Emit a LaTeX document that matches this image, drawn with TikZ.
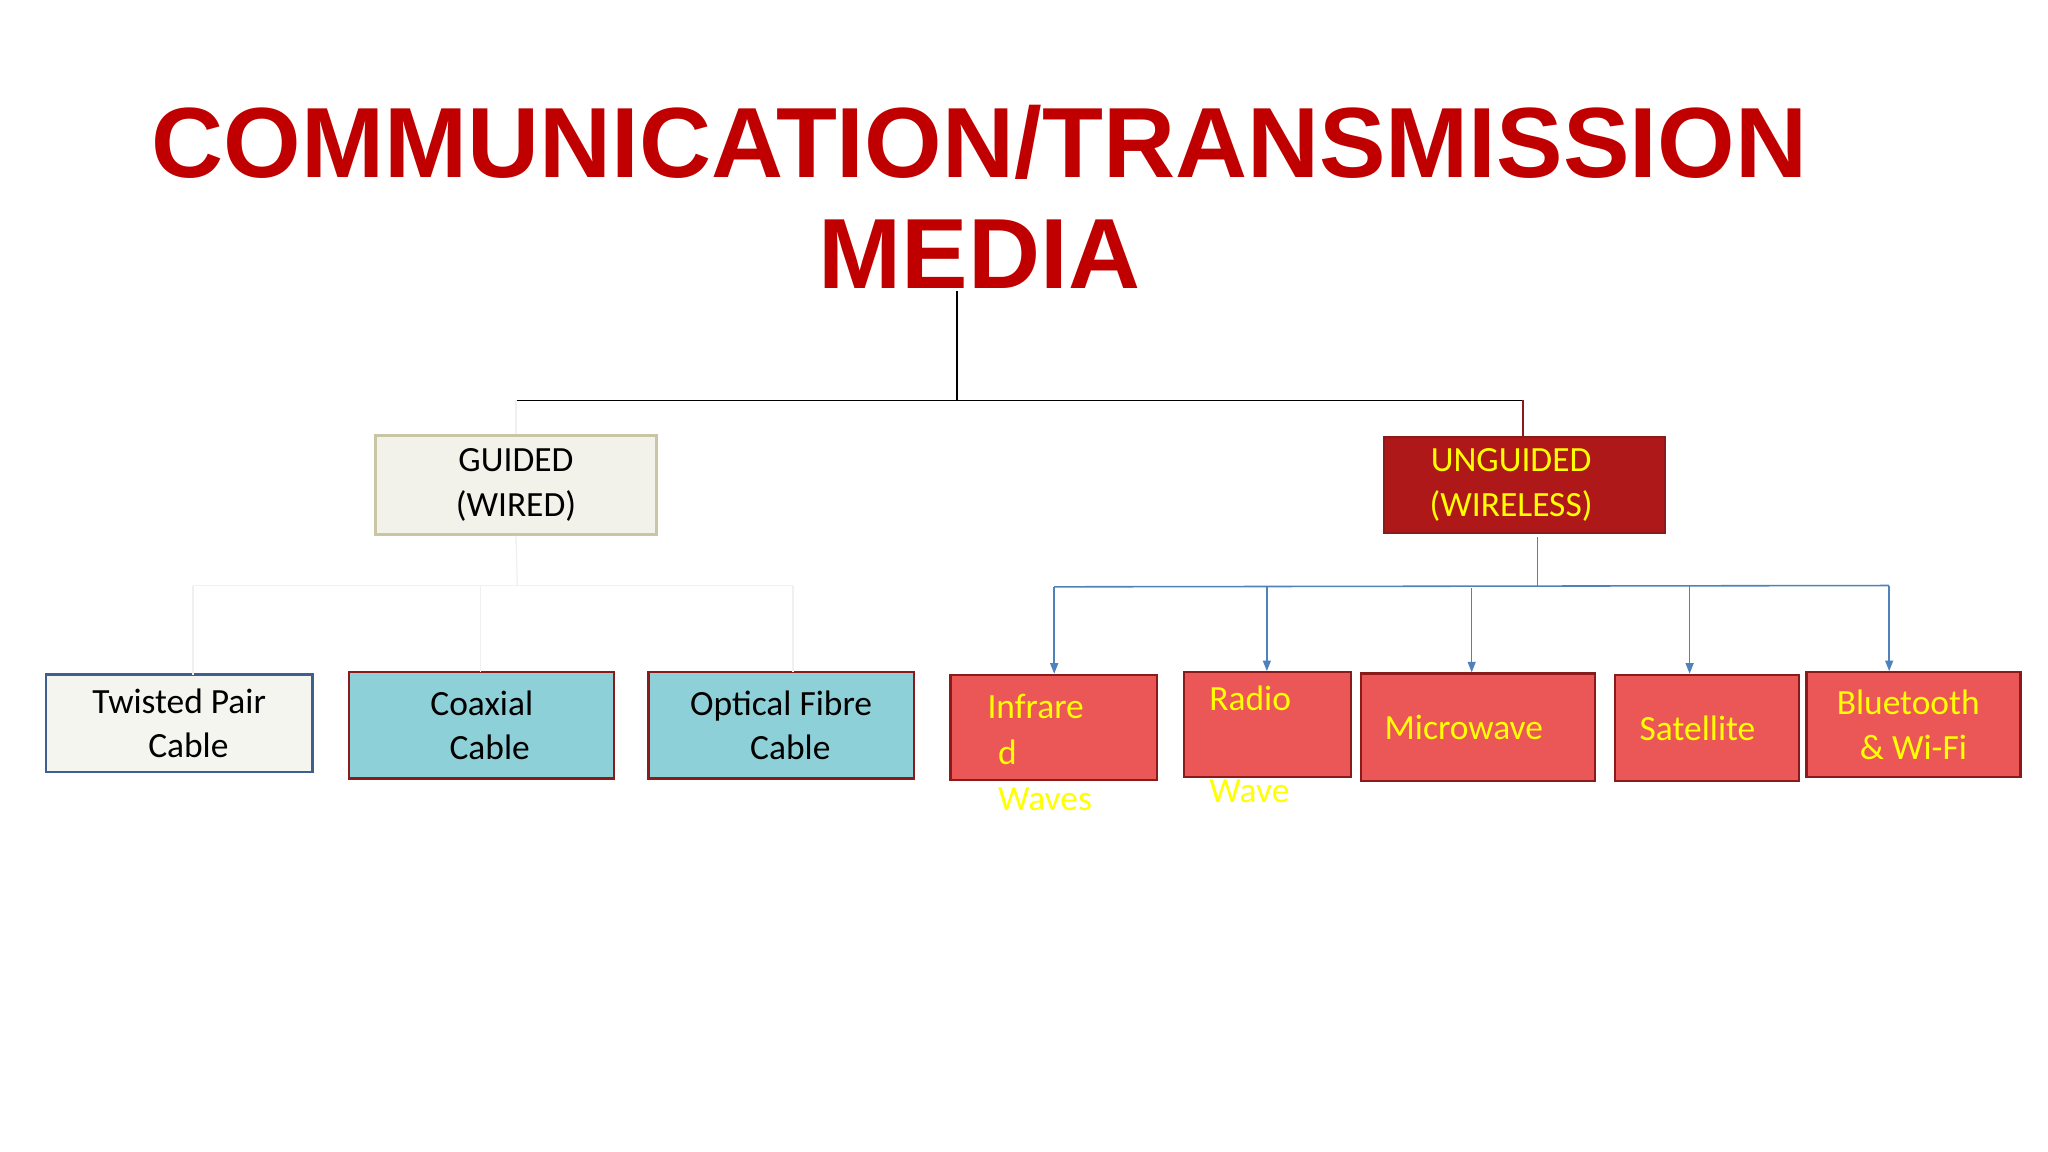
\documentclass[tikz,border=0pt]{standalone}
\usepackage{fontspec}
\setmainfont{Carlito}
\newfontfamily\titlefont{Liberation Sans}
\usetikzlibrary{arrows.meta}
\definecolor{ttl}{HTML}{C00000}
\definecolor{lnk}{HTML}{4F81BD}
\definecolor{brd}{HTML}{8B1A1A}
\definecolor{redbox}{HTML}{EB5757}
\definecolor{teal}{HTML}{8ED0D7}
\definecolor{yel}{HTML}{FFFF00}
\begin{document}
\begin{tikzpicture}[x=1pt,y=-1pt,
 box/.style={draw=brd,line width=1.6pt,inner sep=0pt,font=\fontsize{27}{34}\selectfont,align=center},
 red/.style={box,fill=redbox,text=yel},
 cyan/.style={box,fill=teal,text=black},
 lab/.style={anchor=base west,inner sep=0pt,text=yel,font=\fontsize{27}{34}\selectfont},
 arr/.style={draw=lnk,line width=1.2pt,-{Triangle[width=6pt,length=8pt]}},
 faint/.style={draw=black!6,line width=1pt}]
\useasboundingbox (0,0) rectangle (1560,877.5);
\node[inner sep=0pt,text=ttl,font=\titlefont\bfseries\fontsize{76}{86}\selectfont,align=center] (title) at (746,150) {COMMUNICATION/TRANSMISSION\\[-2pt]MEDIA};
\node[box,draw={rgb,255:red,201;green,197;blue,165},line width=2.4pt,fill={rgb,255:red,243;green,242;blue,234},minimum width=214pt,minimum height=75pt] (guided) at (393,369.5) {GUIDED\\(WIRED)};
\node[box,fill={rgb,255:red,174;green,24;blue,24},text=yel,minimum width=214pt,minimum height=73pt] (unguided) at (1161,369.5) {\hspace*{-20pt}UNGUIDED\\\hspace*{-20pt}(WIRELESS)};
\node[box,draw={rgb,255:red,63;green,95;blue,143},line width=2.2pt,fill={rgb,255:red,245;green,245;blue,240},minimum width=203pt,minimum height=74pt] (tp) at (136.5,551) {Twisted Pair\\\hspace*{14pt}Cable};
\node[cyan,minimum width=202pt,minimum height=81pt] (coax) at (367,552.5) {Coaxial\\\hspace*{12pt}Cable};
\node[cyan,minimum width=202pt,minimum height=81pt] (opt) at (595,552.5) {Optical Fibre\\\hspace*{14pt}Cable};
\node[red,minimum width=157pt,minimum height=80pt] (ir) at (802.5,554) {};
\node[red,minimum width=127pt,minimum height=80pt] (radio) at (965.5,552) {};
\node[red,minimum width=178pt,minimum height=82pt] (mw) at (1126,554) {\hspace*{-22pt}Microwave};
\node[red,minimum width=140pt,minimum height=81pt] (sat) at (1300,554.5) {\hspace*{-14pt}Satellite};
\node[red,minimum width=163pt,minimum height=80pt] (bt) at (1457.5,552) {\hspace*{-8pt}Bluetooth\\\&~Wi-Fi};
\node[lab] (ir1) at (752,547) {Infrare};
\node[lab] (ir2) at (760,582) {d};
\node[lab] (ir3) at (760,617) {Waves};
\node[lab] (r1) at (921,541) {Radio};
\node[lab] (r2) at (921,611) {Wave};
% main tree
\coordinate (tj) at (729,305);
\coordinate (tl) at (393,305);
\coordinate (tr) at (1160,305);
\draw[line width=1.2pt] (729,222) -- (tj);
\draw[line width=1.2pt] (tl) -- (tr);
\draw[brd,line width=1.4pt] (tr) -- (1160,333);
\draw[faint] (tl) -- (guided.north);
% guided faint links
\draw[faint] (guided.south) -- (394,446);
\draw[faint] (147,446) -- (604,446);
\draw[faint] (147,446) -- (147,514);
\draw[faint] (366,446) -- (366,512);
\draw[faint] (604,446) -- (604,512);
% unguided links
\coordinate (uj) at (1171,446);
\draw[lnk,line width=1.2pt] (1171,409) -- (uj);
\draw[lnk,line width=1.2pt] (803,447) -- (1439,446);
\draw[arr] (803,447) -- (ir.north -| 803,0);
\draw[arr] (965,447) -- (radio.north -| 965,0);
\draw[arr] (1121,448) -- (mw.north -| 1121,0);
\draw[arr] (1287,446) -- (sat.north -| 1287,0);
\draw[arr] (1439,446) -- (bt.north -| 1439,0);
\end{tikzpicture}
\end{document}
